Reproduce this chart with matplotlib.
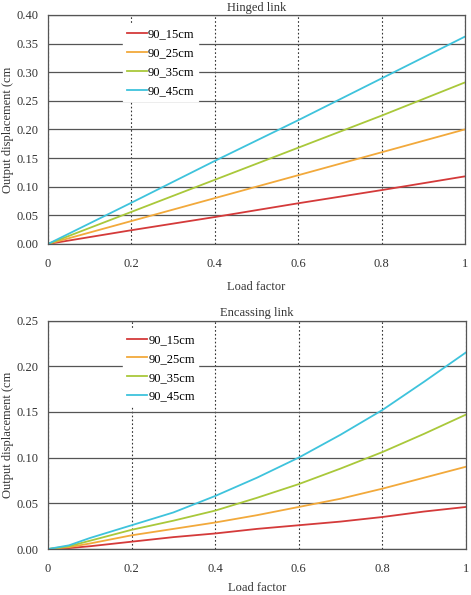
import numpy as np
import matplotlib.pyplot as plt

plt.rcParams['font.family'] = ['Liberation Serif', 'DejaVu Serif']

labels = ['90_15cm', '90_25cm', '90_35cm', '90_45cm']
colors = ['#d43a3a', '#f2a93b', '#a9c83a', '#3ec3dc']

# Hinged link
x_hinged = [0, 0.2, 0.4, 0.6, 0.8, 1.0]
hinged_15 = [0, 0.024, 0.047, 0.071, 0.094, 0.118]
hinged_25 = [0, 0.040, 0.080, 0.120, 0.160, 0.200]
hinged_35 = [0, 0.056, 0.112, 0.168, 0.224, 0.282]
hinged_45 = [0, 0.072, 0.145, 0.216, 0.289, 0.362]

# Encassing link
x_enc = [0, 0.05, 0.1, 0.2, 0.3, 0.4, 0.5, 0.6, 0.7, 0.8, 0.9, 1.0]
enc_15 = [0, 0.001, 0.003, 0.008, 0.013, 0.017, 0.022, 0.026, 0.030, 0.035, 0.041, 0.046]
enc_25 = [0, 0.002, 0.006, 0.015, 0.022, 0.029, 0.037, 0.046, 0.055, 0.066, 0.078, 0.090]
enc_35 = [0, 0.003, 0.009, 0.021, 0.031, 0.042, 0.056, 0.071, 0.088, 0.106, 0.126, 0.147]
enc_45 = [0, 0.004, 0.012, 0.026, 0.040, 0.058, 0.078, 0.100, 0.125, 0.152, 0.183, 0.215]

fig = plt.figure(figsize=(4.71, 5.95), dpi=100)
ax1 = fig.add_axes([0.102, 0.590, 0.885, 0.385])
ax2 = fig.add_axes([0.102, 0.0773, 0.887, 0.384])


def style(ax, title, ymax, series, xs, xlpad):
    for ys, lab, c in zip(series, labels, colors):
        ax.plot(xs, ys, color=c, lw=1.3, label=lab)
    ax.set_xlim(0, 1)
    ax.set_ylim(0, ymax)
    ax.set_yticks(np.arange(0, ymax + 0.001, 0.05))
    ax.set_yticklabels(['%.2f' % v for v in np.arange(0, ymax + 0.001, 0.05)])
    ax.set_xticks([0, 0.2, 0.4, 0.6, 0.8, 1.0])
    ax.set_xticklabels(['0', '0.2', '0.4', '0.6', '0.8', '1'])
    ax.tick_params(length=0, labelsize=9, colors='#333333')
    ax.tick_params(axis='x', pad=10)
    ax.tick_params(axis='y', pad=7)
    ax.yaxis.grid(True, color='#555555', lw=0.9, ls='-')
    ax.xaxis.grid(True, color='#333333', lw=0.8, ls=(0, (1.5, 2)))
    ax.set_axisbelow(True)
    for s in ax.spines.values():
        s.set_color('#555555')
        s.set_linewidth(0.9)
    ax.set_title(title, fontsize=9, color='#333333', pad=3)
    ax.set_xlabel('Load factor', fontsize=9, color='#333333', labelpad=xlpad)
    ax.set_ylabel('Output displacement (cm', fontsize=9, color='#333333', labelpad=2)
    leg = ax.legend(loc='upper left', bbox_to_anchor=(0.165, 0.985), frameon=True,
                    fontsize=9, handlelength=1.6, handletextpad=0.1,
                    labelspacing=0.55, borderpad=0.3, fancybox=False)
    leg.get_frame().set_edgecolor('white')
    leg.get_frame().set_facecolor('white')
    leg.get_frame().set_alpha(1)


style(ax1, 'Hinged link', 0.40, [hinged_15, hinged_25, hinged_35, hinged_45], x_hinged, 8)
style(ax2, 'Encassing link', 0.25, [enc_15, enc_25, enc_35, enc_45], x_enc, 5)

fig.savefig('out.png', dpi=100)
